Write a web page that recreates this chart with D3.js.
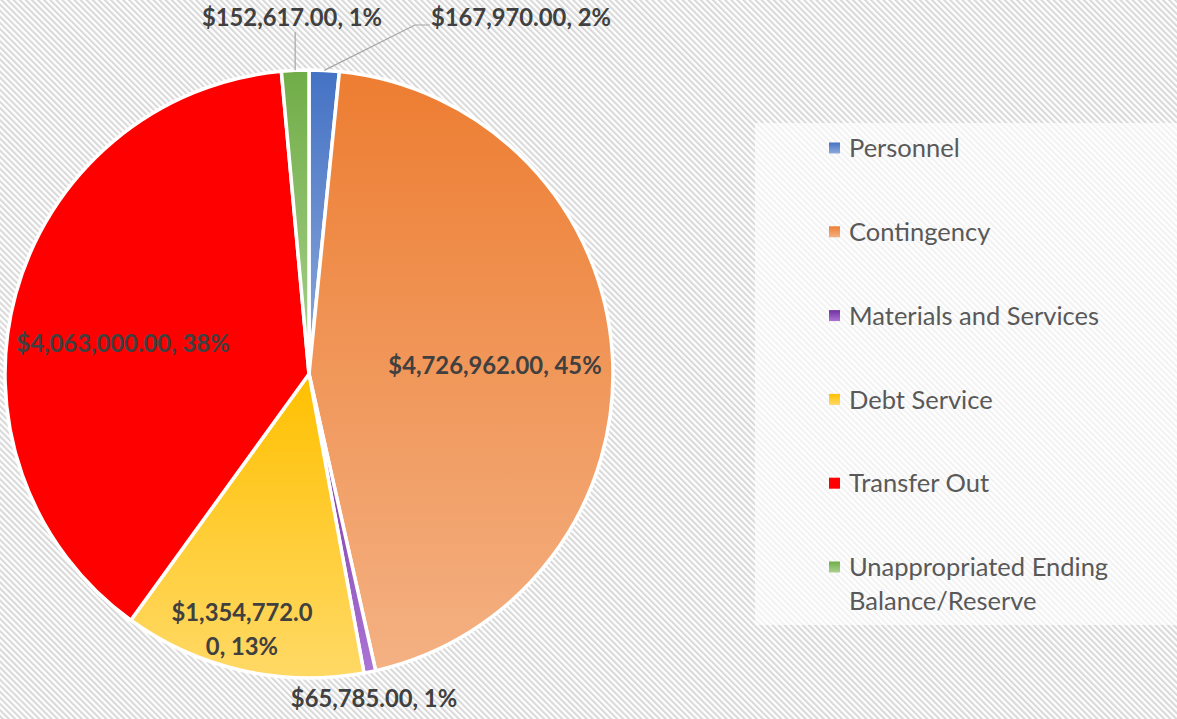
<!DOCTYPE html>
<html>
<head>
<meta charset="utf-8">
<script src="https://cdn.jsdelivr.net/npm/d3@7"></script>
<style>
  html, body { margin: 0; padding: 0; background: #fff; }
  svg { display: block; }
</style>
</head>
<body>
<svg id="chart" width="1177" height="719"></svg>
<script>
// ---- Data ----
const categories = ["Personnel", "Contingency", "Materials and Services", "Debt Service", "Transfer Out", "Unappropriated Ending Balance/Reserve"];
const values = [167970, 4726962, 65785, 1354772, 4063000, 152617];
const percentLabels = ["2%", "45%", "1%", "13%", "38%", "1%"];
const baseColors = ["#4472C4", "#ED7D31", "#7030A0", "#FFC000", "#FF0000", "#70AD47"];
const lightColors = ["#8FAADC", "#F4B183", "#AB74D5", "#FFD966", "#FF0000", "#A9D18E"];

// ---- Layout ----
const W = 1177, H = 719;
const cx = 309, cy = 374, R = 304;
const labelFont = "Lato, 'Open Sans', sans-serif";
const labelSize = 23.8;
const legendSize = 25.5;
// label centers relative to pie center
const labelLayout = [
  { dx: 212, dy: -357, leader: "elbow" },
  { dx: 186, dy: -9 },
  { dx: 65, dy: 324 },
  { dx: -67, dy: 255, wrap: 147 },
  { dx: -186, dy: -31 },
  { dx: -17, dy: -357, leader: "vertical" }
];

const svg = d3.select("#chart");
const defs = svg.append("defs");

// hatched background
const pat = defs.append("pattern")
  .attr("id", "hatch")
  .attr("patternUnits", "userSpaceOnUse")
  .attr("width", 4.3).attr("height", 4.3)
  .attr("patternTransform", "rotate(-45)");
pat.append("rect").attr("width", 4.3).attr("height", 4.3).attr("fill", "#ffffff");
pat.append("rect").attr("width", 2.1).attr("height", 4.3).attr("fill", "#d9d9d9");

svg.append("rect").attr("width", W).attr("height", H).attr("fill", "url(#hatch)");

// gradients
baseColors.forEach((c, i) => {
  const g = defs.append("linearGradient")
    .attr("id", "grad" + i)
    .attr("x1", 0).attr("y1", 0).attr("x2", 0).attr("y2", 1);
  g.append("stop").attr("offset", "0%").attr("stop-color", c);
  g.append("stop").attr("offset", "100%").attr("stop-color", lightColors[i]);
});

// legend box
const legendX = 755, legendY = 123, legendW = W - 755, legendH = 502;
svg.append("rect")
  .attr("x", legendX).attr("y", legendY)
  .attr("width", legendW).attr("height", legendH)
  .attr("fill", "#ffffff").attr("fill-opacity", 0.65);

// pie
const pie = d3.pie().value(d => d).sort(null);
const arcs = pie(values);
const arc = d3.arc().innerRadius(0).outerRadius(R);
const edgeArc = d3.arc().innerRadius(R).outerRadius(R);

const g = svg.append("g").attr("transform", `translate(${cx},${cy})`);
g.selectAll("path.slice")
  .data(arcs)
  .join("path")
  .attr("class", "slice")
  .attr("d", arc)
  .attr("fill", (d, i) => `url(#grad${i})`)
  .attr("stroke", "#ffffff")
  .attr("stroke-width", 3.5)
  .attr("stroke-linejoin", "round");

// labels
const fmt = d3.format("$,.2f");
const labelG = svg.append("g");
arcs.forEach((d, i) => {
  const L = labelLayout[i];
  const x = cx + L.dx, y = cy + L.dy;
  const txt = fmt(values[i]) + ", " + percentLabels[i];
  const t = labelG.append("text")
    .attr("x", x).attr("y", y)
    .attr("text-anchor", "middle")
    .attr("font-family", labelFont)
    .attr("font-weight", "bold")
    .attr("font-size", labelSize)
    .attr("fill", "#404040");
  if (L.wrap) {
    // character wrap
    const lines = [];
    let cur = "";
    t.text("");
    const probe = t.append("tspan");
    for (const ch of txt) {
      probe.text(cur + ch);
      if (probe.node().getComputedTextLength() > L.wrap && cur.length) {
        lines.push(cur);
        cur = ch;
      } else {
        cur += ch;
      }
    }
    lines.push(cur);
    probe.remove();
    const lh = 34;
    lines.forEach((ln, k) => {
      t.append("tspan")
        .attr("x", x)
        .attr("y", y + (k - (lines.length - 1) / 2) * lh)
        .attr("dy", "0.36em")
        .text(ln);
    });
  } else {
    t.attr("dy", "0.36em").text(txt);
  }

  if (L.leader) {
    const [ex, ey] = edgeArc.centroid(d);
    const px = cx + ex, py = cy + ey;
    let pts;
    if (L.leader === "vertical") {
      pts = [[px, py], [px, y + 15]];
    } else {
      const w = t.node().getComputedTextLength();
      const lx = x - w / 2;
      pts = [[px, py], [lx - 16, y + 8], [lx - 1, y + 8]];
    }
    svg.append("path")
      .attr("d", d3.line()(pts))
      .attr("fill", "none")
      .attr("stroke", "#a6a6a6")
      .attr("stroke-width", 1.2);
  }
});

// legend
const rowY = d3.scalePoint().domain(d3.range(categories.length)).range([148, 567]);
const legG = svg.append("g");
categories.forEach((name, i) => {
  const y = rowY(i);
  legG.append("rect")
    .attr("x", 829).attr("y", y - 5.5)
    .attr("width", 11).attr("height", 11)
    .attr("fill", `url(#grad${i})`);
  const t = legG.append("text")
    .attr("x", 849).attr("y", y)
    .attr("font-family", labelFont)
    .attr("font-size", legendSize)
    .attr("fill", "#595959");
  // word wrap
  const words = name.split(" ");
  const maxW = 290;
  const lines = [];
  let cur = "";
  const probe = t.append("tspan");
  words.forEach(w => {
    const test = cur ? cur + " " + w : w;
    probe.text(test);
    if (probe.node().getComputedTextLength() > maxW && cur) {
      lines.push(cur);
      cur = w;
    } else cur = test;
  });
  lines.push(cur);
  probe.remove();
  lines.forEach((ln, k) => {
    t.append("tspan").attr("x", 849).attr("y", y + k * 34).attr("dy", "0.36em").text(ln);
  });
});
</script>
</body>
</html>
